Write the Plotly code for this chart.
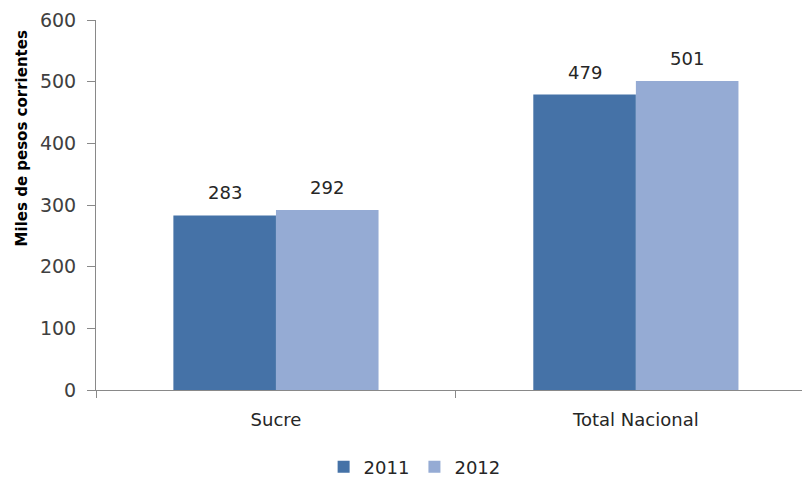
import plotly.graph_objects as go

categories = ["Sucre", "Total Nacional"]
years = ["2011", "2012"]
values_2011 = [283, 479]
values_2012 = [292, 501]
colors = ["#4572A7", "#95ABD4"]
y_ticks = [0, 100, 200, 300, 400, 500, 600]
y_title = "Miles de pesos corrientes"

FONT = "DejaVu Sans"

fig = go.Figure()
for name, vals, col in zip(years, [values_2011, values_2012], colors):
    fig.add_trace(go.Bar(x=categories, y=vals, name=name,
                         marker=dict(color=col, line=dict(width=0))))

annotations = []
for vals, shift in zip([values_2011, values_2012], [-51, 51]):
    for c, v in zip(categories, vals):
        annotations.append(dict(x=c, y=v, text=str(v), showarrow=False, xshift=shift,
                                yanchor="bottom", yshift=10,
                                font=dict(family=FONT, size=18, color="#262626")))
annotations.append(dict(xref="paper", yref="paper", x=-0.102, y=0.681, text="<b>" + y_title + "</b>",
                        textangle=-90, showarrow=False, xanchor="center", yanchor="middle",
                        font=dict(family=FONT, size=15, color="#000000")))

fig.update_layout(
    width=810, height=478,
    margin=dict(l=88, r=0, t=12, b=96),
    plot_bgcolor="white", paper_bgcolor="white",
    barmode="group", bargap=0.43, bargroupgap=0,
    font=dict(family=FONT, size=18, color="#404040"),
    xaxis=dict(type="category", range=[-0.5, 1.506], tickson="boundaries", ticks="outside",
               ticklen=7, tickcolor="#898989", showline=True, linecolor="#898989", linewidth=1,
               tickfont=dict(family=FONT, size=18, color="#262626"), ticklabelstandoff=13,
               showgrid=False, zeroline=False, automargin=False),
    yaxis=dict(range=[0, 600], tickvals=y_ticks, ticks="outside", ticklen=8, tickcolor="#898989",
               showline=True, linecolor="#898989", linewidth=1, showgrid=False, zeroline=False,
               tickfont=dict(family=FONT, size=19, color="#404040"), ticklabelstandoff=7,
               automargin=False),
    legend=dict(orientation="h", xref="container", yref="container", x=0.502, y=0.0397,
                xanchor="center", yanchor="middle",
                font=dict(family=FONT, size=18, color="#262626")),
    annotations=annotations,
    showlegend=True,
)

fig.write_html("out.html")
